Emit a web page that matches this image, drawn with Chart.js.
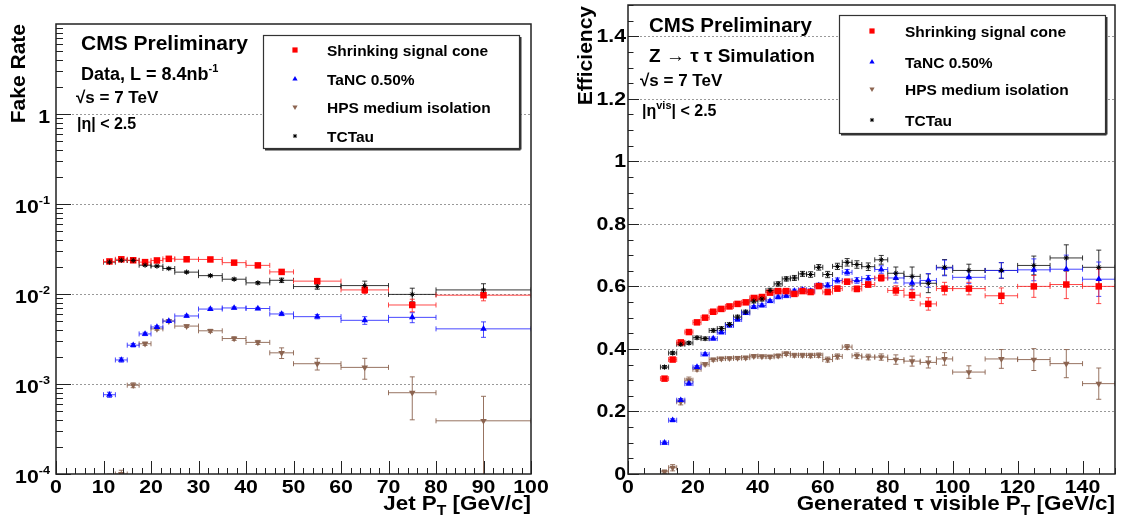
<!DOCTYPE html>
<html>
<head>
<meta charset="utf-8">
<script src="https://cdn.jsdelivr.net/npm/chart.js@4.4.1/dist/chart.umd.min.js"></script>
<style>
  body { margin: 0; background: #fff; width: 1123px; height: 528px; overflow: hidden; position: relative; }
  canvas { position: absolute; top: 0; }
  #fake { left: 0; }
  #eff { left: 560px; }
</style>
</head>
<body>
<canvas id="fake" width="560" height="528"></canvas>
<canvas id="eff" width="563" height="528"></canvas>
<script>
const FONT = '"Liberation Sans", Arial, Helvetica, sans-serif';

const seriesNames = ['Shrinking signal cone', 'TaNC 0.50%', 'HPS medium isolation', 'TCTau'];

// fake rate vs jet pT (left)
const fakeLo = [10, 12.5, 15, 17.5, 20, 22.5, 25, 30, 35, 40, 45, 50, 60, 70, 80];
const fakeHi = [12.5, 15, 17.5, 20, 22.5, 25, 30, 35, 40, 45, 50, 60, 70, 80, 100];
const fakeX = [11.25, 13.75, 16.25, 18.75, 21.25, 23.75, 27.5, 32.5, 37.5, 42.5, 47.5, 55, 65, 75, 90];
const fakeSSC = [0.0230, 0.0243, 0.0237, 0.0226, 0.0236, 0.0246, 0.0243, 0.0242, 0.0223, 0.0208, 0.0176, 0.0139, 0.0111, 0.00755, 0.0097];
const fakeSSCErr = [0.0006, 0.0006, 0.0006, 0.0006, 0.0006, 0.0007, 0.0006, 0.0007, 0.0007, 0.0007, 0.0008, 0.0008, 0.001, 0.0012, 0.0013];
const fakeTaNC = [0.00076, 0.00185, 0.0027, 0.0036, 0.0043, 0.0050, 0.0057, 0.0068, 0.0070, 0.0069, 0.0060, 0.0056, 0.0051, 0.0055, 0.0041];
const fakeTaNCErr = [0.00005, 0.0001, 0.00012, 0.00015, 0.00015, 0.00018, 0.00018, 0.0002, 0.0002, 0.0002, 0.00025, 0.0003, 0.0005, 0.0007, 0.0008];
const fakeHPS = [0.00009, 0.0001, 0.00097, 0.0028, 0.0041, 0.0050, 0.0044, 0.0039, 0.0032, 0.0029, 0.00222, 0.00168, 0.00153, 0.0008, 0.00039];
const fakeHPSErr = [0.00001, 0.00001, 0.00006, 0.00012, 0.00015, 0.00018, 0.00015, 0.00015, 0.00015, 0.00015, 0.0003, 0.00025, 0.0004, 0.0004, 0.00034];
const fakeTCTau = [0.0226, 0.0237, 0.0236, 0.0209, 0.0204, 0.0192, 0.0175, 0.0160, 0.0146, 0.0133, 0.0142, 0.0121, 0.0124, 0.0099, 0.0111];
const fakeTCTauErr = [0.0004, 0.0004, 0.0004, 0.0004, 0.0004, 0.0004, 0.0004, 0.0004, 0.0004, 0.0004, 0.0008, 0.0008, 0.0015, 0.0017, 0.0019];
const fakeXTicks = [0, 10, 20, 30, 40, 50, 60, 70, 80, 90, 100];
const fakeYTicks = [1e-4, 1e-3, 1e-2, 1e-1, 1, 10];
const fakeYLabels = [['10', '-4'], ['10', '-3'], ['10', '-2'], ['10', '-1'], ['1', ''], null];

// efficiency vs generated visible tau pT (right)
const effLo = [10, 12.5, 15, 17.5, 20, 22.5, 25, 27.5, 30, 32.5, 35, 37.5, 40, 42.5, 45, 47.5, 50, 52.5, 55, 57.5, 60, 63, 66, 69, 72, 76, 80, 85, 90, 95, 100, 110, 120, 130, 140];
const effHi = [12.5, 15, 17.5, 20, 22.5, 25, 27.5, 30, 32.5, 35, 37.5, 40, 42.5, 45, 47.5, 50, 52.5, 55, 57.5, 60, 63, 66, 69, 72, 76, 80, 85, 90, 95, 100, 110, 120, 130, 140, 150];
const effX = [11.25, 13.75, 16.25, 18.75, 21.25, 23.75, 26.25, 28.75, 31.25, 33.75, 36.25, 38.75, 41.25, 43.75, 46.25, 48.75, 51.25, 53.75, 56.25, 58.75, 61.5, 64.5, 67.5, 70.5, 74, 78, 82.5, 87.5, 92.5, 97.5, 105, 115, 125, 135, 145];
const effSSC = [0.305, 0.366, 0.421, 0.454, 0.485, 0.500, 0.519, 0.528, 0.536, 0.544, 0.549, 0.563, 0.566, 0.580, 0.585, 0.585, 0.576, 0.585, 0.582, 0.601, 0.582, 0.593, 0.615, 0.592, 0.606, 0.627, 0.587, 0.572, 0.544, 0.593, 0.593, 0.570, 0.600, 0.606, 0.600];
const effSSCErr = [0.005, 0.005, 0.005, 0.005, 0.005, 0.005, 0.005, 0.005, 0.005, 0.005, 0.005, 0.005, 0.005, 0.005, 0.005, 0.006, 0.006, 0.006, 0.006, 0.007, 0.008, 0.008, 0.008, 0.009, 0.009, 0.010, 0.015, 0.017, 0.020, 0.020, 0.020, 0.025, 0.035, 0.045, 0.055];
const effTaNC = [0.100, 0.172, 0.236, 0.289, 0.342, 0.383, 0.433, 0.453, 0.475, 0.494, 0.515, 0.534, 0.539, 0.553, 0.566, 0.570, 0.585, 0.589, 0.585, 0.603, 0.603, 0.619, 0.645, 0.619, 0.625, 0.654, 0.627, 0.611, 0.619, 0.659, 0.629, 0.651, 0.653, 0.655, 0.623];
const effTaNCErr = [0.005, 0.005, 0.005, 0.005, 0.005, 0.005, 0.005, 0.005, 0.005, 0.005, 0.005, 0.005, 0.005, 0.005, 0.006, 0.006, 0.006, 0.006, 0.007, 0.007, 0.008, 0.008, 0.009, 0.009, 0.010, 0.012, 0.016, 0.020, 0.022, 0.025, 0.020, 0.025, 0.035, 0.045, 0.055];
const effHPS = [0.007, 0.020, 0.231, 0.300, 0.335, 0.351, 0.366, 0.369, 0.370, 0.371, 0.372, 0.377, 0.376, 0.375, 0.378, 0.385, 0.380, 0.380, 0.379, 0.380, 0.366, 0.376, 0.406, 0.378, 0.374, 0.374, 0.366, 0.361, 0.357, 0.368, 0.326, 0.368, 0.366, 0.353, 0.289];
const effHPSErr = [0.006, 0.010, 0.010, 0.010, 0.006, 0.005, 0.005, 0.005, 0.005, 0.005, 0.005, 0.005, 0.005, 0.005, 0.006, 0.006, 0.006, 0.006, 0.007, 0.007, 0.008, 0.008, 0.008, 0.009, 0.009, 0.010, 0.015, 0.016, 0.018, 0.020, 0.020, 0.030, 0.035, 0.045, 0.050];
const effTCTau = [0.342, 0.387, 0.415, 0.419, 0.436, 0.433, 0.459, 0.465, 0.478, 0.502, 0.518, 0.553, 0.560, 0.587, 0.608, 0.624, 0.627, 0.640, 0.638, 0.661, 0.638, 0.664, 0.677, 0.670, 0.663, 0.685, 0.642, 0.632, 0.610, 0.661, 0.651, 0.651, 0.667, 0.691, 0.661];
const effTCTauErr = [0.005, 0.005, 0.005, 0.005, 0.005, 0.005, 0.005, 0.006, 0.006, 0.006, 0.006, 0.006, 0.007, 0.007, 0.007, 0.007, 0.008, 0.008, 0.009, 0.009, 0.010, 0.010, 0.012, 0.012, 0.012, 0.014, 0.020, 0.030, 0.030, 0.025, 0.020, 0.025, 0.030, 0.042, 0.055];
const effXTicks = [0, 20, 40, 60, 80, 100, 120, 140];
const effYTicks = [0, 0.2, 0.4, 0.6, 0.8, 1, 1.2, 1.4];

const styles = [
  { pointStyle: 'rect', rotation: 0, radius: 4.6, color: '#ff0000', line: 'rgba(255,40,40,0.85)', bw: 0, order: 1 },
  { pointStyle: 'triangle', rotation: 0, radius: 3.8, color: '#0000ff', line: 'rgba(40,40,255,0.85)', bw: 0, order: 2 },
  { pointStyle: 'triangle', rotation: 180, radius: 3.8, color: '#8c6450', line: 'rgba(140,100,80,0.9)', bw: 0, order: 3 },
  { pointStyle: 'star', rotation: 0, radius: 2.6, color: '#000000', line: 'rgba(20,20,20,0.85)', bw: 1, order: 0 }
];

function drawText(ctx, parts, x, y, align, sx, rot) {
  ctx.save();
  ctx.translate(x, y);
  if (rot) ctx.rotate(rot);
  ctx.scale(sx || 1, 1);
  let w = 0;
  parts.forEach(p => { ctx.font = 'bold ' + p[1] + 'px ' + FONT; w += ctx.measureText(p[0]).width; });
  let cx = align === 'right' ? -w : (align === 'center' ? -w / 2 : 0);
  ctx.fillStyle = '#000';
  ctx.textAlign = 'left';
  ctx.textBaseline = 'alphabetic';
  parts.forEach(p => {
    ctx.font = 'bold ' + p[1] + 'px ' + FONT;
    ctx.fillText(p[0], cx, p[2] || 0);
    cx += ctx.measureText(p[0]).width;
  });
  ctx.restore();
}

function line(ctx, x1, y1, x2, y2) {
  ctx.beginPath(); ctx.moveTo(x1, y1); ctx.lineTo(x2, y2); ctx.stroke();
}

function rootPlugin(cfg) {
  return {
    id: 'root' + cfg.id,
    beforeDatasetsDraw(chart) {
      const ctx = chart.ctx, a = chart.chartArea;
      const xs = chart.scales.x, ys = chart.scales.y;
      ctx.save();
      // dotted grid on y majors
      ctx.strokeStyle = '#999';
      ctx.lineWidth = 1;
      ctx.setLineDash([2, 2]);
      cfg.yTicks.forEach(v => {
        const py = Math.round(ys.getPixelForValue(v)) + 0.5;
        if (py > a.top + 2 && py < a.bottom - 2) line(ctx, a.left, py, a.right, py);
      });
      ctx.setLineDash([]);
      // error bars
      ctx.beginPath(); ctx.rect(a.left, a.top, a.right - a.left, a.bottom - a.top); ctx.clip();
      for (let d = chart.data.datasets.length - 1; d >= 0; d--) {
        const ds = chart.data.datasets[d];
        ctx.strokeStyle = ds.errColor;
        ctx.lineWidth = 1;
        ds.data.forEach((p, j) => {
          const px = xs.getPixelForValue(p.x), py = ys.getPixelForValue(p.y);
          const x1 = xs.getPixelForValue(ds.xLo[j]), x2 = xs.getPixelForValue(ds.xHi[j]);
          let lo = p.y - ds.yErr[j];
          if (cfg.log && lo <= 0) lo = 1e-5;
          const y1 = ys.getPixelForValue(lo), y2 = ys.getPixelForValue(p.y + ds.yErr[j]);
          line(ctx, x1, py, x2, py);
          line(ctx, x1, py - 2.5, x1, py + 2.5);
          line(ctx, x2, py - 2.5, x2, py + 2.5);
          line(ctx, px, y1, px, y2);
          line(ctx, px - 2.5, y1, px + 2.5, y1);
          line(ctx, px - 2.5, y2, px + 2.5, y2);
        });
      }
      ctx.restore();
    },
    afterDraw(chart) {
      const ctx = chart.ctx, a = chart.chartArea;
      const xs = chart.scales.x, ys = chart.scales.y;
      ctx.save();
      ctx.strokeStyle = '#222';
      ctx.lineWidth = 1;
      // x tick marks
      for (let v = xs.min; v <= xs.max + 1e-9; v += cfg.xMinor) {
        const px = Math.round(xs.getPixelForValue(v)) + 0.5;
        const major = Math.abs(v / cfg.xMajor - Math.round(v / cfg.xMajor)) < 1e-6;
        line(ctx, px, a.bottom, px, a.bottom - (major ? 13 : 6));
      }
      // y tick marks
      if (cfg.log) {
        for (let e = -4; e < 1; e++) {
          for (let k = 1; k < 10; k++) {
            const py = Math.round(ys.getPixelForValue(k * Math.pow(10, e))) + 0.5;
            line(ctx, a.left, py, a.left + (k === 1 ? 15 : 7), py);
          }
        }
      } else {
        for (let i = 0; i <= 30; i++) {
          const py = Math.round(ys.getPixelForValue(i * 0.05)) + 0.5;
          line(ctx, a.left, py, a.left + (i % 4 === 0 ? 11 : 5.5), py);
        }
      }
      // frame
      ctx.lineWidth = 1.5;
      ctx.strokeRect(a.left, a.top, a.right - a.left, a.bottom - a.top);
      ctx.restore();

      // tick labels
      cfg.xTicks.forEach(v => {
        drawText(ctx, [[String(v), 18.5]], xs.getPixelForValue(v), a.bottom + 19, 'center', 1.15);
      });
      cfg.yTicks.forEach((v, i) => {
        const py = ys.getPixelForValue(v);
        if (cfg.log) {
          const lab = cfg.yLabels[i];
          if (!lab) return;
          drawText(ctx, [[lab[0], 18.5], [lab[1], 11, -9]], a.left - 6, py + 9, 'right', 1.15);
        } else {
          drawText(ctx, [[String(v), 18.5]], a.left - 2, py + 6, 'right', 1.15);
        }
      });

      // axis titles
      drawText(ctx, cfg.xTitle, a.right, 510, 'right', 1.12);
      drawText(ctx, cfg.yTitle.parts, cfg.yTitle.x, cfg.yTitle.y, 'right', 1.05, -Math.PI / 2);

      // labels
      cfg.texts.forEach(t => drawText(ctx, t.parts, t.x, t.y, 'left', 1));

      // legend box
      const L = cfg.legend;
      ctx.save();
      ctx.fillStyle = '#fff';
      ctx.fillRect(L.x, L.y, L.w, L.h);
      ctx.strokeStyle = '#333';
      ctx.lineWidth = 1.2;
      ctx.strokeRect(L.x + 0.5, L.y + 0.5, L.w, L.h);
      ctx.lineWidth = 2;
      line(ctx, L.x + 2, L.y + L.h + 1.5, L.x + L.w + 1.5, L.y + L.h + 1.5);
      line(ctx, L.x + L.w + 1.5, L.y + 2, L.x + L.w + 1.5, L.y + L.h + 1.5);
      chart.data.datasets.forEach((ds, i) => {
        const cy = L.rows[i];
        ctx.fillStyle = ds.backgroundColor;
        ctx.strokeStyle = ds.borderColor;
        ctx.lineWidth = ds.borderWidth || 1;
        Chart.helpers.drawPoint(ctx, {
          pointStyle: ds.pointStyle, rotation: ds.rotation,
          radius: ds.pointRadius * 0.8, borderWidth: ds.borderWidth
        }, L.mx, cy);
        drawText(ctx, [[ds.label, 15.5]], L.tx, cy + 5.5, 'left', 1);
      });
      ctx.restore();
    }
  };
}

function makePanel(cfg) {
  return new Chart(document.getElementById(cfg.id), {
    type: 'scatter',
    data: {
      datasets: cfg.series.map((s, i) => ({
        label: seriesNames[i],
        data: cfg.x.map((x, j) => ({ x: x, y: s.y[j] })),
        xLo: cfg.lo, xHi: cfg.hi, yErr: s.err,
        pointStyle: styles[i].pointStyle,
        rotation: styles[i].rotation,
        pointRadius: styles[i].radius,
        backgroundColor: styles[i].color,
        borderColor: styles[i].color,
        borderWidth: styles[i].bw,
        errColor: styles[i].line,
        order: styles[i].order
      }))
    },
    options: {
      responsive: false,
      animation: false,
      layout: { padding: cfg.pad },
      plugins: { legend: { display: false }, tooltip: { enabled: false } },
      scales: {
        x: {
          type: 'linear', min: cfg.xMin, max: cfg.xMax,
          afterFit: s => { s.height = 54; },
          ticks: { display: false }, grid: { display: false }, border: { display: false }
        },
        y: {
          type: cfg.log ? 'logarithmic' : 'linear', min: cfg.yMin, max: cfg.yMax,
          afterFit: s => { s.width = cfg.yWidth; },
          afterBuildTicks: s => { s.ticks = cfg.yTicks.map(v => ({ value: v })); },
          ticks: { display: false }, grid: { display: false }, border: { display: false }
        }
      }
    },
    plugins: [rootPlugin(cfg)]
  });
}

makePanel({
  id: 'fake', log: true,
  x: fakeX, lo: fakeLo, hi: fakeHi,
  series: [
    { y: fakeSSC, err: fakeSSCErr },
    { y: fakeTaNC, err: fakeTaNCErr },
    { y: fakeHPS, err: fakeHPSErr },
    { y: fakeTCTau, err: fakeTCTauErr }
  ],
  xMin: 0, xMax: 100, yMin: 1e-4, yMax: 10,
  xMajor: 10, xMinor: 2,
  xTicks: fakeXTicks, yTicks: fakeYTicks, yLabels: fakeYLabels,
  pad: { top: 24, right: 29, left: 0, bottom: 0 }, yWidth: 56,
  xTitle: [['Jet P', 20], ['T', 14, 5], [' [GeV/c]', 20]],
  yTitle: { parts: [['Fake Rate', 20]], x: 25, y: 24 },
  texts: [
    { parts: [['CMS Preliminary', 21]], x: 81, y: 50 },
    { parts: [['Data, L = 8.4nb', 18], ['-1', 11, -8]], x: 81, y: 80 },
    { parts: [['\u221As = 7 TeV', 17]], x: 76, y: 103 },
    { parts: [['|\u03B7| < 2.5', 16]], x: 77, y: 129 }
  ],
  legend: { x: 263, y: 35, w: 256, h: 113, mx: 295, tx: 327, rows: [50, 79, 107, 136] }
});

makePanel({
  id: 'eff', log: false,
  x: effX, lo: effLo, hi: effHi,
  series: [
    { y: effSSC, err: effSSCErr },
    { y: effTaNC, err: effTaNCErr },
    { y: effHPS, err: effHPSErr },
    { y: effTCTau, err: effTCTauErr }
  ],
  xMin: 0, xMax: 150, yMin: 0, yMax: 1.5,
  xMajor: 20, xMinor: 5,
  xTicks: effXTicks, yTicks: effYTicks,
  pad: { top: 5, right: 8, left: 0, bottom: 0 }, yWidth: 68,
  xTitle: [['Generated \u03C4 visible P', 20], ['T', 14, 5], [' [GeV/c]', 20]],
  yTitle: { parts: [['Efficiency', 20]], x: 32, y: 6 },
  texts: [
    { parts: [['CMS Preliminary', 20.5]], x: 89, y: 32 },
    { parts: [['Z \u2192 \u03C4 \u03C4 Simulation', 19]], x: 89, y: 62 },
    { parts: [['\u221As = 7 TeV', 17]], x: 80, y: 86 },
    { parts: [['|\u03B7', 16], ['vis', 11, -7], ['| < 2.5', 16]], x: 82, y: 116 }
  ],
  legend: { x: 279, y: 15, w: 266, h: 118, mx: 312, tx: 345, rows: [31, 62, 89, 120] }
});
</script>
</body>
</html>
